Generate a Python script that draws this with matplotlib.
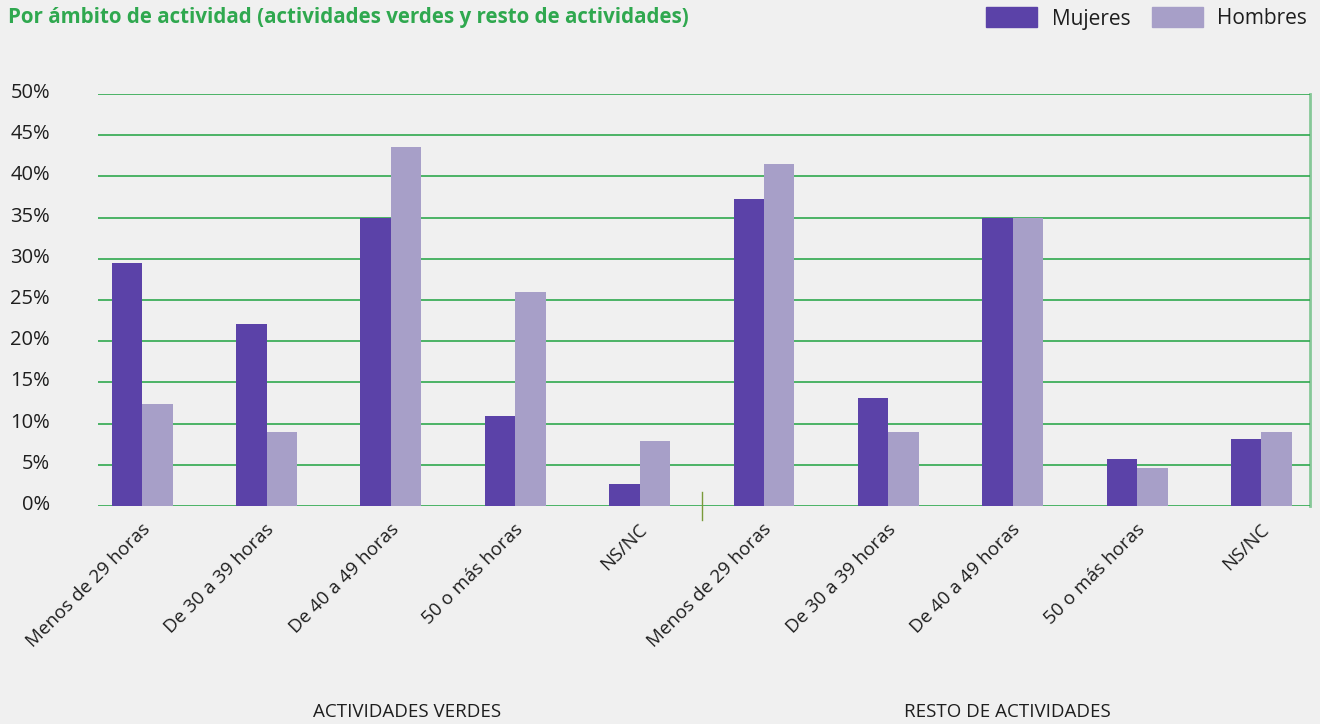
import matplotlib
matplotlib.use("Agg")
import matplotlib.pyplot as plt
from matplotlib.patches import Rectangle
import matplotlib.transforms as mtransforms
import numpy as np

plt.rcParams['font.family'] = ['Open Sans', 'Noto Sans', 'DejaVu Sans']

categories = ["Menos de 29 horas", "De 30 a 39 horas", "De 40 a 49 horas",
              "50 o más horas", "NS/NC",
              "Menos de 29 horas", "De 30 a 39 horas", "De 40 a 49 horas",
              "50 o más horas", "NS/NC"]
groups = ["ACTIVIDADES VERDES", "RESTO DE ACTIVIDADES"]
mujeres = [29.5, 22.1, 34.9, 10.9, 2.7, 37.3, 13.1, 34.9, 5.7, 8.1]
hombres = [12.4, 9.0, 43.6, 26.0, 7.9, 41.5, 9.0, 34.9, 4.6, 9.0]
yticks = [0, 5, 10, 15, 20, 25, 30, 35, 40, 45, 50]

c_m = "#5b42a8"
c_h = "#a79fc8"
green = "#2fa84f"
bg = "#f0f0f0"
txt = "#1e1e1e"

W, H = 1320, 724
fig = plt.figure(figsize=(W/100, H/100), dpi=100, facecolor=bg)
ax = fig.add_axes([98/W, 1-506/H, (1310-98)/W, (506-94)/H], facecolor=bg)

x = np.arange(len(categories))
bw = 0.245
ax.bar(x - bw/2, mujeres, width=bw, color=c_m, zorder=3)
ax.bar(x + bw/2, hombres, width=bw, color=c_h, zorder=3)

ax.set_xlim(-0.355, 9.39)
ax.set_ylim(0, 50)
ax.set_yticks(yticks)
ax.set_yticklabels([f"{v}%" for v in yticks], fontsize=14.5, color=txt)
for v in yticks:
    ax.axhline(v, color=green, lw=1.2, zorder=1)
ax.tick_params(axis='y', length=0, pad=34.5)
yoff = mtransforms.ScaledTranslation(0, 3.5/100, fig.dpi_scale_trans)
for lab in ax.get_yticklabels():
    lab.set_transform(lab.get_transform() + yoff)

ax.set_xticks(x)
ax.set_xticklabels(categories, rotation=45, ha='right', va='center',
                   rotation_mode='anchor', fontsize=13.5, color=txt)
ax.tick_params(axis='x', length=0, pad=15)
offset = mtransforms.ScaledTranslation(5/100, 0, fig.dpi_scale_trans)
for lab in ax.get_xticklabels():
    lab.set_transform(lab.get_transform() + offset)

for s in ['top', 'left', 'bottom']:
    ax.spines[s].set_visible(False)
ax.spines['right'].set_color(green)
ax.spines['right'].set_alpha(0.55)
ax.spines['right'].set_linewidth(2)

# divider tick between groups
ax.plot([4.5, 4.5], [-1.7, 1.7], color="#7a9a3a", lw=1, clip_on=False, zorder=4)

# group labels
fig.text(407/W, 1-712/H, groups[0], ha='center', va='center', fontsize=13.5, color=txt)
fig.text(1007/W, 1-712/H, groups[1], ha='center', va='center', fontsize=13.5, color=txt)

# title
fig.text(8/W, 1-18/H, "Por ámbito de actividad (actividades verdes y resto de actividades)",
         ha='left', va='center', fontsize=14.8, fontweight='bold', color=green)

# legend
fig.add_artist(Rectangle((986/W, 1-27/H), 51/W, 20/H, transform=fig.transFigure,
                         color=c_m))
fig.text(1052/W, 1-19/H, "Mujeres", ha='left', va='center', fontsize=15, color=txt)
fig.add_artist(Rectangle((1152/W, 1-27/H), 51/W, 20/H, transform=fig.transFigure,
                         color=c_h))
fig.text(1217/W, 1-19/H, "Hombres", ha='left', va='center', fontsize=15, color=txt)

fig.savefig("out.png", dpi=100, facecolor=bg)
